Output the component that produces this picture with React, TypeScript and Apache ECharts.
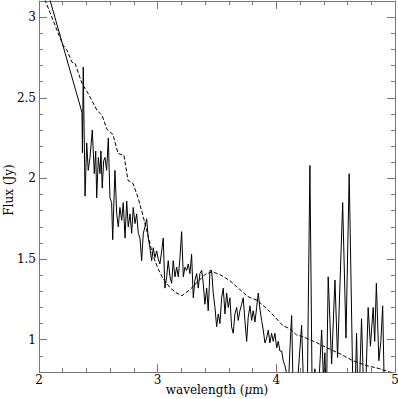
import React, { useEffect, useRef } from 'react';
import * as echarts from 'echarts';

// Observed spectrum: [wavelength (µm), flux (Jy)]
const spectrum: [number, number][] = [
  [2.06, 3.19], [2.362, 2.41], [2.366, 2.16], [2.373, 2.69], [2.388, 1.89], [2.402, 2.22],
  [2.415, 2.05], [2.43, 2.13], [2.449, 2.3], [2.466, 2.03], [2.478, 2.17], [2.486, 1.88],
  [2.5, 2.13], [2.514, 2.03], [2.522, 2.17], [2.533, 1.94], [2.545, 2.11], [2.556, 2.13],
  [2.57, 2.05], [2.584, 2.25], [2.598, 1.88], [2.612, 1.85], [2.621, 1.62], [2.64, 2.05],
  [2.655, 1.78], [2.668, 1.7], [2.682, 1.82], [2.697, 1.74], [2.71, 1.85], [2.725, 1.63],
  [2.739, 1.86], [2.752, 1.7], [2.767, 1.78], [2.781, 1.66], [2.794, 1.82], [2.809, 1.72],
  [2.823, 1.78], [2.837, 1.66], [2.851, 1.63], [2.865, 1.49], [2.879, 1.66], [2.893, 1.7],
  [2.907, 1.75], [2.921, 1.63], [2.935, 1.57], [2.949, 1.49], [2.963, 1.57], [2.977, 1.51],
  [2.992, 1.55], [3.005, 1.5], [3.019, 1.47], [3.034, 1.55], [3.047, 1.63], [3.061, 1.32],
  [3.076, 1.39], [3.089, 1.49], [3.104, 1.39], [3.118, 1.35], [3.131, 1.49], [3.146, 1.39],
  [3.16, 1.45], [3.174, 1.39], [3.188, 1.51], [3.202, 1.67], [3.216, 1.39], [3.23, 1.45],
  [3.244, 1.43], [3.258, 1.47], [3.272, 1.41], [3.286, 1.53], [3.3, 1.26], [3.314, 1.37],
  [3.329, 1.41], [3.342, 1.32], [3.356, 1.41], [3.371, 1.43], [3.384, 1.35], [3.398, 1.22],
  [3.413, 1.32], [3.426, 1.18], [3.441, 1.43], [3.455, 1.43], [3.468, 1.29], [3.483, 1.2],
  [3.497, 1.08], [3.511, 1.16], [3.525, 1.1], [3.539, 1.26], [3.553, 1.32], [3.567, 1.16],
  [3.581, 1.29], [3.595, 1.2], [3.609, 1.26], [3.623, 1.08], [3.637, 1.04], [3.651, 1.16],
  [3.666, 1.2], [3.679, 1.12], [3.693, 1.18], [3.708, 1.22], [3.721, 1.26], [3.735, 1.12],
  [3.75, 0.99], [3.763, 1.14], [3.778, 1.21], [3.792, 1.12], [3.805, 1.18], [3.82, 1.11],
  [3.834, 1.2], [3.848, 1.29], [3.862, 1.19], [3.876, 1.12], [3.89, 1.06], [3.904, 0.98],
  [3.918, 1.01], [3.932, 1.06], [3.946, 0.98], [3.96, 1.04], [3.974, 0.99], [3.988, 1.04],
  [4.003, 0.95], [4.016, 0.99], [4.03, 0.93], [4.045, 0.93], [4.058, 0.87], [4.072, 0.84],
  [4.087, 0.79], [4.1, 0.68], [4.115, 0.95], [4.129, 1.15], [4.14, 0.75], [4.157, 0.5],
  [4.18, 0.75], [4.213, 1.09], [4.233, 0.62], [4.258, 0.5], [4.283, 2.08], [4.304, 0.5],
  [4.325, 0.82], [4.342, 0.5], [4.382, 1.06], [4.397, 0.75], [4.409, 0.92], [4.422, 0.62],
  [4.437, 1.39], [4.466, 0.85], [4.494, 1.37], [4.516, 0.89], [4.559, 1.85], [4.587, 1.01],
  [4.614, 2.03], [4.643, 0.78], [4.658, 0.5], [4.676, 1.04], [4.692, 0.5], [4.718, 1.13],
  [4.738, 0.62], [4.755, 0.75], [4.774, 1.2], [4.793, 0.96], [4.816, 1.2], [4.829, 0.99],
  [4.843, 1.35], [4.864, 0.87], [4.881, 0.99], [4.896, 1.21], [4.915, 0.5], [4.93, 0.6],
];

// Model curve (dashed): [wavelength (µm), flux (Jy)]
const model: [number, number][] = [
  [2.03, 3.145], [2.051, 3.106], [2.202, 2.826], [2.236, 2.795], [2.278, 2.72], [2.303, 2.714],
  [2.362, 2.59], [2.413, 2.528], [2.489, 2.422], [2.531, 2.391], [2.573, 2.304], [2.623, 2.273],
  [2.666, 2.155], [2.716, 2.143], [2.75, 1.988], [2.792, 1.969], [2.834, 1.882], [2.876, 1.77],
  [2.918, 1.646], [2.96, 1.522], [3.003, 1.441], [3.045, 1.379], [3.104, 1.323], [3.154, 1.292],
  [3.205, 1.273], [3.272, 1.311], [3.331, 1.354], [3.398, 1.404], [3.457, 1.422], [3.525, 1.404],
  [3.609, 1.366], [3.693, 1.311], [3.761, 1.267], [3.845, 1.242], [3.946, 1.174], [4.056, 1.087],
  [4.115, 1.068], [4.17, 1.03], [4.22, 1.02], [4.342, 0.981], [4.426, 0.95], [4.536, 0.913],
  [4.645, 0.87], [4.763, 0.839], [4.873, 0.82], [4.974, 0.795],
];

const xMin = 2;
const xMax = 5;
const yMin = 0.8;
const yMax = 3.1;
const xTitle = 'wavelength ({i|μ}m)';
const yTitle = 'Flux (Jy)';

export default function App() {
  const ref = useRef<HTMLDivElement>(null);
  useEffect(() => {
    const chart = echarts.init(ref.current!, null, { renderer: 'svg' });
    const font = 'DejaVu Serif';
    const axisColor = '#777';
    const tick = { show: true, inside: true, length: 8, lineStyle: { color: axisColor, width: 1 } };
    const minor = (n: number) => ({ show: true, splitNumber: n, length: 4, lineStyle: { color: axisColor, width: 1 } });
    const line = { show: true, onZero: false, lineStyle: { color: axisColor, width: 1 } };
    const isMajor = (v: number) => Math.abs(v * 2 - Math.round(v * 2)) < 1e-6;
    chart.setOption({
      animation: false,
      backgroundColor: '#fff',
      grid: { left: 39, right: 3, top: 1, bottom: 27, containLabel: false, outerBoundsMode: 'none' },
      graphic: [
        {
          type: 'text', x: 217, y: 390,
          style: {
            text: xTitle, fill: '#000', fontFamily: font, fontSize: 12,
            align: 'center', verticalAlign: 'middle',
            rich: { i: { fontStyle: 'italic', fontFamily: font, fontSize: 12, fill: '#000' } },
          },
        },
        {
          type: 'text', x: 9, y: 190, rotation: Math.PI / 2,
          style: {
            text: yTitle, fill: '#000', fontFamily: font, fontSize: 12,
            align: 'center', verticalAlign: 'middle',
          },
        },
      ],
      xAxis: [
        {
          type: 'value', min: xMin, max: xMax, interval: 1, position: 'bottom',
          axisLine: line, axisTick: tick, minorTick: minor(5), splitLine: { show: false },
          axisLabel: { color: '#000', fontFamily: font, fontSize: 12, margin: 2 },
        },
        {
          type: 'value', min: xMin, max: xMax, interval: 1, position: 'top',
          axisLine: line, axisTick: tick, minorTick: minor(5), splitLine: { show: false },
          axisLabel: { show: false },
        },
      ],
      yAxis: [
        {
          type: 'value', min: yMin, max: yMax, splitNumber: 5, position: 'left',
          axisLine: line, axisTick: tick, minorTick: minor(5), splitLine: { show: false },
          axisLabel: {
            color: '#000', fontFamily: font, fontSize: 12, margin: 3,
            formatter: (v: number) => (isMajor(v) ? String(v) : ''),
          },
        },
        {
          type: 'value', min: yMin, max: yMax, splitNumber: 5, position: 'right',
          axisLine: line, axisTick: tick, minorTick: minor(5), splitLine: { show: false },
          axisLabel: { show: false },
        },
      ],
      series: [
        {
          type: 'line', data: spectrum, xAxisIndex: 0, yAxisIndex: 0, showSymbol: false,
          clip: true, lineStyle: { color: '#000', width: 1 },
        },
        {
          type: 'line', data: model, xAxisIndex: 0, yAxisIndex: 0, showSymbol: false,
          clip: true, lineStyle: { color: '#000', width: 1, type: [4, 2] },
        },
      ],
    });
    return () => chart.dispose();
  }, []);
  return <div ref={ref} style={{ position: 'fixed', left: 0, top: 0, width: 398, height: 399 }} />;
}
